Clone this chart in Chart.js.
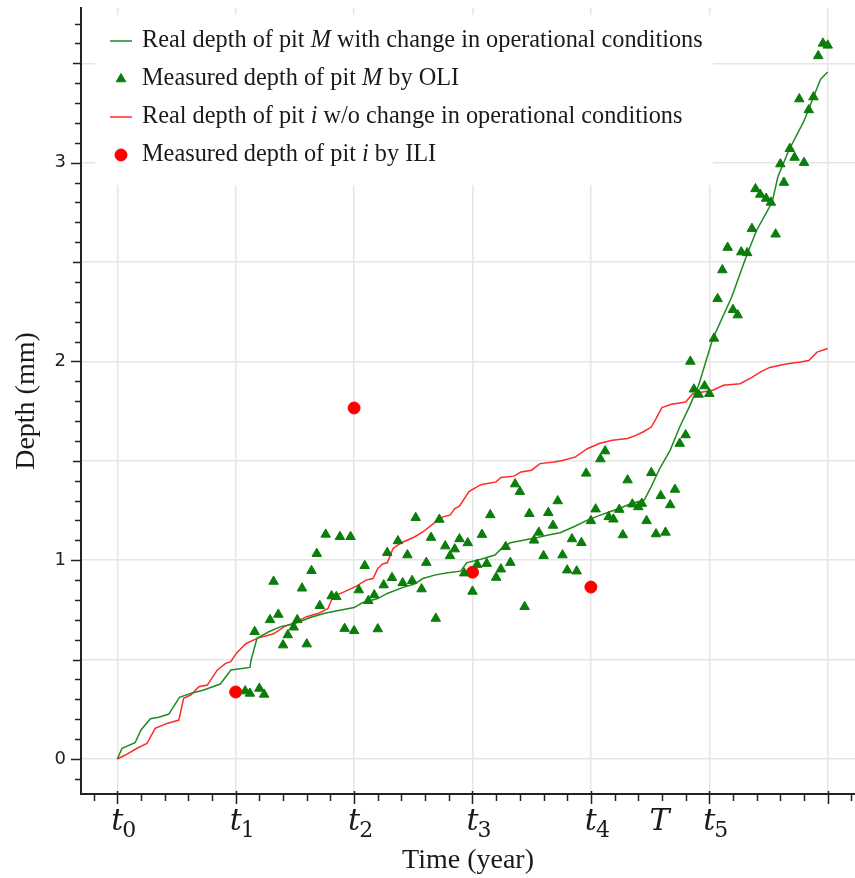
<!DOCTYPE html>
<html>
<head>
<meta charset="utf-8">
<script src="https://cdn.jsdelivr.net/npm/chart.js@4.4.1/dist/chart.umd.min.js"></script>
<style>
  html, body { margin: 0; padding: 0; background: #fff; overflow: hidden; }
  canvas { display: block; }
</style>
</head>
<body>
<canvas id="depthChart" width="855" height="878"></canvas>
<script>
// real depth of pit M (with change in operational conditions)
const realM_t = [0, 0.04, 0.15, 0.2, 0.28, 0.35, 0.435, 0.525, 0.62, 0.73, 0.87, 0.96, 1.12, 1.13, 1.18, 1.28, 1.38, 1.49, 1.63, 1.75,
  1.89, 2.0, 2.07, 2.2, 2.28, 2.43, 2.51, 2.58, 2.68, 2.79, 2.9, 2.95, 3.07, 3.19, 3.26, 3.32, 3.43, 3.55, 3.64, 3.74,
  3.87, 3.97, 4.08, 4.16, 4.24, 4.34, 4.45, 4.51, 4.58, 4.67, 4.75, 4.83, 4.91, 5.03, 5.19, 5.32, 5.4, 5.53, 5.58, 5.67,
  5.8, 5.88, 5.94, 6.0]
const realM_depth = [0, 0.054, 0.082, 0.146, 0.203, 0.21, 0.226, 0.31, 0.33, 0.347, 0.377, 0.448, 0.461, 0.498, 0.607, 0.64, 0.666, 0.679, 0.712, 0.733,
  0.75, 0.762, 0.786, 0.807, 0.833, 0.867, 0.88, 0.908, 0.925, 0.937, 0.945, 0.987, 1.005, 1.026, 1.068, 1.088, 1.1, 1.114, 1.127, 1.138,
  1.172, 1.202, 1.227, 1.244, 1.26, 1.285, 1.303, 1.37, 1.46, 1.554, 1.67, 1.77, 1.88, 2.115, 2.325, 2.54, 2.66, 2.8, 2.93, 3.06,
  3.21, 3.33, 3.42, 3.456]

// real depth of pit i (without change)
const realI_t = [0, 0.068, 0.167, 0.25, 0.32, 0.42, 0.52, 0.56, 0.62, 0.69, 0.76, 0.845, 0.915, 0.958, 1.01, 1.085, 1.18, 1.32, 1.41, 1.51,
  1.6, 1.7, 1.78, 1.82, 1.92, 2.02, 2.1, 2.16, 2.2, 2.24, 2.28, 2.33, 2.4, 2.51, 2.58, 2.67, 2.75, 2.81, 2.85, 2.89,
  2.97, 3.07, 3.2, 3.24, 3.35, 3.41, 3.5, 3.57, 3.69, 3.77, 3.87, 3.97, 4.07, 4.18, 4.31, 4.38, 4.44, 4.51, 4.55, 4.6,
  4.68, 4.8, 4.86, 5.03, 5.12, 5.26, 5.36, 5.43, 5.51, 5.66, 5.77, 5.84, 5.91, 6.0]
const realI_depth = [0, 0.02, 0.054, 0.078, 0.154, 0.179, 0.196, 0.305, 0.322, 0.364, 0.372, 0.448, 0.481, 0.49, 0.535, 0.58, 0.607, 0.63, 0.666, 0.69,
  0.716, 0.733, 0.757, 0.816, 0.842, 0.87, 0.9, 0.908, 0.959, 0.981, 0.987, 1.06, 1.088, 1.117, 1.142, 1.184, 1.218, 1.227, 1.26, 1.272,
  1.345, 1.38, 1.394, 1.416, 1.423, 1.444, 1.453, 1.486, 1.494, 1.503, 1.52, 1.561, 1.587, 1.603, 1.612, 1.628, 1.645, 1.67, 1.712, 1.768,
  1.785, 1.796, 1.838, 1.855, 1.88, 1.888, 1.92, 1.946, 1.97, 1.988, 1.997, 2.005, 2.047, 2.065]

// OLI measurements of pit M
const oli_t = [1.08, 1.12, 1.2, 1.24, 1.16, 1.29, 1.32, 1.36, 1.40, 1.44, 1.49, 1.52, 1.56, 1.60, 1.64, 1.685, 1.71, 1.76, 1.81, 1.85,
  1.88, 1.92, 1.97, 2.0, 2.04, 2.09, 2.12, 2.17, 2.2, 2.25, 2.28, 2.32, 2.37, 2.41, 2.45, 2.49, 2.52, 2.57, 2.61, 2.65,
  2.69, 2.72, 2.77, 2.81, 2.85, 2.89, 2.93, 2.96, 3.0, 3.04, 3.08, 3.12, 3.15, 3.2, 3.24, 3.28, 3.32, 3.36, 3.4, 3.44,
  3.48, 3.52, 3.56, 3.6, 3.64, 3.68, 3.72, 3.76, 3.8, 3.84, 3.88, 3.92, 3.96, 4.0, 4.04, 4.08, 4.12, 4.15, 4.19, 4.24,
  4.27, 4.31, 4.35, 4.4, 4.43, 4.47, 4.51, 4.55, 4.59, 4.63, 4.67, 4.71, 4.75, 4.8, 4.84, 4.87, 4.91, 4.96, 5.0, 5.04,
  5.07, 5.11, 5.155, 5.2, 5.24, 5.27, 5.32, 5.36, 5.39, 5.43, 5.48, 5.52, 5.56, 5.6, 5.63, 5.68, 5.72, 5.76, 5.8, 5.84,
  5.88, 5.92, 5.96, 6.0]
const oli_depth = [0.342, 0.33, 0.355, 0.325, 0.64, 0.7, 0.893, 0.727, 0.573, 0.624, 0.663, 0.7, 0.859, 0.578, 0.947, 1.033, 0.771, 1.13, 0.82, 0.816,
  1.118, 0.656, 1.118, 0.645, 0.85, 0.972, 0.796, 0.825, 0.654, 0.875, 1.038, 0.912, 1.097, 0.886, 1.026, 0.897, 1.214, 0.855, 0.988, 1.114,
  0.707, 1.205, 1.071, 1.022, 1.056, 1.107, 0.935, 1.087, 0.843, 0.978, 1.129, 0.983, 1.228, 0.913, 0.955, 1.068, 0.988, 1.383, 1.345, 0.766,
  1.234, 1.1, 1.14, 1.022, 1.239, 1.175, 1.298, 1.026, 0.95, 1.107, 0.945, 1.088, 1.437, 1.198, 1.257, 1.509, 1.549, 1.218, 1.206, 1.255,
  1.127, 1.403, 1.282, 1.268, 1.285, 1.198, 1.44, 1.132, 1.324, 1.14, 1.278, 1.356, 1.587, 1.63, 2.0, 1.86, 1.834, 1.876, 1.838, 2.116,
  2.315, 2.46, 2.573, 2.26, 2.233, 2.55, 2.546, 2.668, 2.868, 2.84, 2.82, 2.8, 2.64, 2.993, 2.9, 3.07, 3.026, 3.32, 3.0, 3.265,
  3.33, 3.537, 3.6, 3.59]

// ILI measurements of pit i
const ili_t = [1, 2, 3, 4]
const ili_depth = [0.337, 1.766, 0.94, 0.865]

const seriesLabels = [
  'Real depth of pit *M* with change in operational conditions',
  'Measured depth of pit *M* by OLI',
  'Real depth of pit *i* w/o change in operational conditions',
  'Measured depth of pit *i* by ILI'
]

const xGridValues = [0, 1, 2, 3, 4, 5, 6]
const yGridValues = [0, 0.5, 1, 1.5, 2, 2.5, 3, 3.5]
const xTickValues = [0, 1, 2, 3, 4, 4.58, 5]
const xTickLabels = ['t_0', 't_1', 't_2', 't_3', 't_4', 'T', 't_5']

const pts = (xs, ys) => xs.map((x, i) => ({ x: x, y: ys[i] }))
const ink = '#1a1a1a'

// label with *word* parts in italic
function richText(ctx, text, x, y, size) {
	text.split('*').forEach((part, k) => {
		ctx.font = (k % 2 ? 'italic ' : '') + size + 'px "Liberation Serif"'
		ctx.fillText(part, x, y)
		x += ctx.measureText(part).width
	})
}

const legendBox = {
	id: 'legendBox',
	beforeDatasetsDraw(chart) {
		const ctx = chart.ctx
		ctx.save()
		ctx.fillStyle = '#fff'
		ctx.fillRect(95, 15, 618, 170)
		chart.data.datasets.forEach((ds, k) => {
			const base = 47 + 38 * k
			const my = base - 6
			if (ds.showLine) {
				ctx.strokeStyle = ds.borderColor
				ctx.lineWidth = ds.borderWidth
				ctx.beginPath()
				ctx.moveTo(110, my)
				ctx.lineTo(132, my)
				ctx.stroke()
			} else {
				ctx.fillStyle = ds.backgroundColor
				ctx.strokeStyle = ds.borderColor
				ctx.lineWidth = 1
				Chart.helpers.drawPoint(ctx, { pointStyle: ds.pointStyle, radius: ds.pointRadius, borderWidth: 1, rotation: 0 }, 121, my)
			}
			ctx.fillStyle = ink
			ctx.textAlign = 'left'
			ctx.textBaseline = 'alphabetic'
			richText(ctx, ds.label, 142, base, 24.3)
		})
		ctx.restore()
	}
}

const axisMarks = {
	id: 'axisMarks',
	afterDraw(chart) {
		const { ctx, chartArea: a, scales: { x, y } } = chart
		ctx.save()
		ctx.strokeStyle = '#222'
		ctx.lineWidth = 1.5
		ctx.beginPath()
		for (let i = Math.ceil(x.min * 5); i <= x.max * 5; i++) {
			const px = Math.round(x.getPixelForValue(i / 5)) + 0.5
			const major = i % 5 === 0
			ctx.moveTo(px, a.bottom - (major ? 3 : 0))
			ctx.lineTo(px, a.bottom + (major ? 10 : 7))
		}
		for (let i = Math.ceil(y.min * 10); i <= y.max * 10; i++) {
			const py = Math.round(y.getPixelForValue(i / 10)) + 0.5
			const len = i % 10 === 0 ? 10 : (i % 5 === 0 ? 8 : 6)
			ctx.moveTo(a.left - len, py)
			ctx.lineTo(a.left, py)
		}
		ctx.stroke()

		ctx.fillStyle = ink
		ctx.textBaseline = 'alphabetic'
		xTickValues.forEach((v, k) => {
			const [main, sub] = xTickLabels[k].split('_')
			const px = x.getPixelForValue(v)
			ctx.font = 'italic 30px "DejaVu Serif"'
			ctx.textAlign = 'center'
			ctx.fillText(main, px, a.bottom + 36)
			if (sub) {
				const w = ctx.measureText(main).width
				ctx.font = '22px "DejaVu Serif"'
				ctx.textAlign = 'left'
				ctx.fillText(sub, px + w / 2 - 1, a.bottom + 43)
			}
		})
		ctx.restore()
	}
}

new Chart(document.getElementById('depthChart'), {
	type: 'scatter',
	data: {
		datasets: [
			{
				label: seriesLabels[0],
				data: pts(realM_t, realM_depth),
				showLine: true,
				borderColor: '#1f8a1f',
				borderWidth: 1.5,
				pointRadius: 0,
				order: 2
			},
			{
				label: seriesLabels[1],
				data: pts(oli_t, oli_depth),
				pointStyle: 'triangle',
				pointRadius: 5.5,
				backgroundColor: '#0a7d0a',
				borderColor: '#0a7d0a',
				borderWidth: 1,
				order: 1
			},
			{
				label: seriesLabels[2],
				data: pts(realI_t, realI_depth),
				showLine: true,
				borderColor: '#ff2a2a',
				borderWidth: 1.5,
				pointRadius: 0,
				order: 2
			},
			{
				label: seriesLabels[3],
				data: pts(ili_t, ili_depth),
				pointStyle: 'circle',
				pointRadius: 6,
				backgroundColor: '#ff0000',
				borderColor: '#ff0000',
				borderWidth: 1,
				order: 1
			}
		]
	},
	options: {
		responsive: false,
		animation: false,
		layout: { autoPadding: false, padding: { top: 8, right: 0, left: 0, bottom: 0 } },
		plugins: { legend: { display: false }, tooltip: { enabled: false } },
		scales: {
			x: {
				type: 'linear',
				min: -0.3066,
				max: 6.2306,
				afterFit: (s) => { s.height = 84; s.paddingLeft = 0; s.paddingRight = 0 },
				afterBuildTicks: (s) => { s.ticks = xGridValues.map(v => ({ value: v })) },
				grid: { color: '#e6e6e6', lineWidth: 1.5, drawTicks: false },
				border: { color: '#222', width: 2 },
				ticks: { display: false },
				title: {
					display: true,
					text: 'Time (year)',
					color: ink,
					font: { family: 'Liberation Serif', size: 28 },
					padding: { top: 0, bottom: 1 }
				}
			},
			y: {
				type: 'linear',
				min: -0.176,
				max: 3.778,
				afterFit: (s) => { s.width = 81; s.paddingTop = 0; s.paddingBottom = 0 },
				afterBuildTicks: (s) => { s.ticks = yGridValues.map(v => ({ value: v })) },
				grid: { color: '#e6e6e6', lineWidth: 1.5, drawTicks: false },
				border: { color: '#222', width: 2 },
				ticks: {
					padding: 15,
					color: '#222',
					font: { family: 'DejaVu Sans', size: 18 },
					callback: (v) => Number.isInteger(v) ? String(v) : ''
				},
				title: {
					display: true,
					text: 'Depth (mm)',
					color: ink,
					font: { family: 'Liberation Serif', size: 28 },
					padding: { top: 10, bottom: 0 }
				}
			}
		}
	},
	plugins: [legendBox, axisMarks]
})
</script>
</body>
</html>
